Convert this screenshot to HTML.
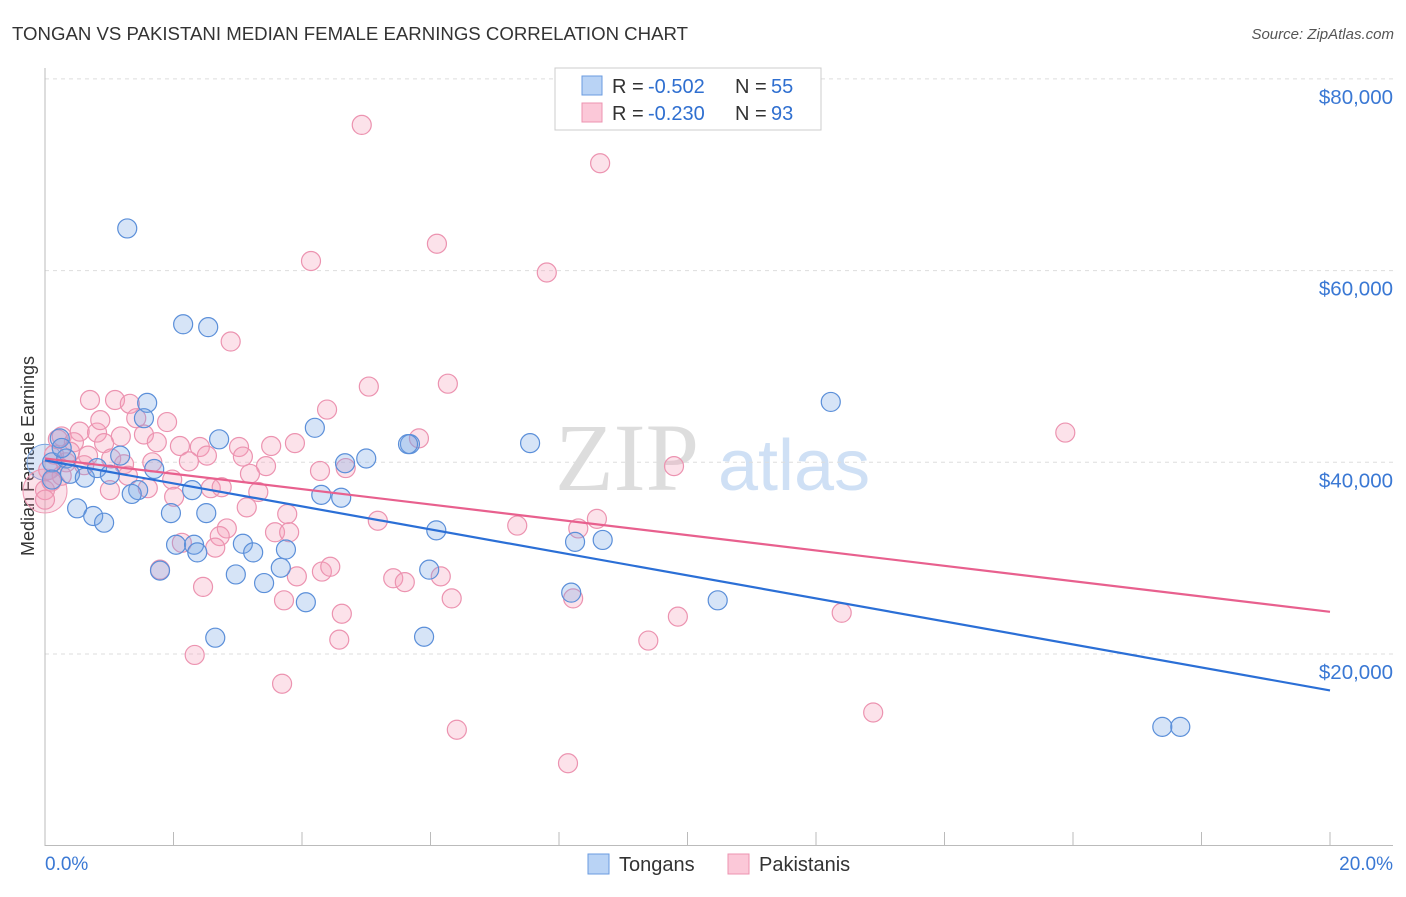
<!DOCTYPE html>
<html><head><meta charset="utf-8"><style>
body{margin:0;background:#fff;font-family:"Liberation Sans",sans-serif}
</style></head><body>
<svg width="1406" height="892" xmlns="http://www.w3.org/2000/svg" id="svg" font-family="Liberation Sans, sans-serif">
<text x="12" y="40" font-size="18" fill="#333" textLength="676" lengthAdjust="spacingAndGlyphs">TONGAN VS PAKISTANI MEDIAN FEMALE EARNINGS CORRELATION CHART</text>
<text x="1394" y="39" font-size="15" fill="#555" text-anchor="end" font-style="italic">Source: ZipAtlas.com</text>
<g><text x="555" y="490" font-size="96" fill="#ddd" font-family="Liberation Serif, serif">ZIP</text><text x="718" y="490" font-size="72" fill="#cfe0f5">atlas</text></g>
<text transform="translate(34,456) rotate(-90)" font-size="18" fill="#333" text-anchor="middle">Median Female Earnings</text>
<g id="grid"></g><g id="pts"></g><g id="lines"></g>
<g>
<rect x="555" y="68" width="266" height="62" fill="#fff" stroke="#ccc"/>
<rect x="582" y="76" width="20" height="19" fill="#b9d3f5" stroke="#6a9be0"/>
<rect x="582" y="103" width="20" height="19" fill="#fbc8d8" stroke="#ec93b0"/>
<text x="612" y="93" font-size="20" fill="#333">R =</text><text x="648" y="93" font-size="20" fill="#2f6fd0">-0.502</text>
<text x="735" y="93" font-size="20" fill="#333">N =</text><text x="771" y="93" font-size="20" fill="#2f6fd0">55</text>
<text x="612" y="120" font-size="20" fill="#333">R =</text><text x="648" y="120" font-size="20" fill="#2f6fd0">-0.230</text>
<text x="735" y="120" font-size="20" fill="#333">N =</text><text x="771" y="120" font-size="20" fill="#2f6fd0">93</text>
</g>
<g>
<rect x="588" y="854" width="21" height="20" fill="#b9d3f5" stroke="#6a9be0"/>
<text x="619" y="871" font-size="20" fill="#333">Tongans</text>
<rect x="728" y="854" width="21" height="20" fill="#fbc8d8" stroke="#ec93b0"/>
<text x="759" y="871" font-size="20" fill="#333">Pakistanis</text>
</g>
</svg>
<script>
const yTicks=[20000,40000,60000,80000];
const yTickLabels=["$20,000","$40,000","$60,000","$80,000"];
const xTickLabels=["0.0%","20.0%"];
const tonganX=[1.28,2.15,2.54,1.59,1.54,2.71,4.20,5.00,5.68,7.55,12.23,0.11,0.23,0.33,0.39,0.62,0.81,1.01,1.17,1.70,1.45,1.35,2.29,0.50,0.75,0.92,1.96,2.51,2.04,2.32,2.37,3.08,3.24,3.75,4.30,4.61,4.67,5.65,6.09,1.79,2.97,3.41,3.67,4.06,2.65,5.90,5.98,8.19,8.25,8.68,10.47,17.39,17.67,0.11,0.26];
const tonganY=[64.4,54.4,54.1,46.2,44.6,42.4,43.6,40.4,41.9,42.0,46.3,40.0,42.5,40.4,38.8,38.4,39.4,38.7,40.7,39.3,37.1,36.7,37.1,35.2,34.4,33.7,34.7,34.7,31.4,31.4,30.6,31.5,30.6,30.9,36.6,36.3,39.9,41.9,32.9,28.7,28.3,27.4,29.0,25.4,21.7,21.8,28.8,26.4,31.7,31.9,25.6,12.4,12.4,38.2,41.5];
const pakX=[4.93,8.64,4.14,6.10,7.81,2.89,5.04,6.27,4.39,15.88,9.79,1.09,1.32,1.90,1.42,1.18,1.54,1.74,2.10,2.41,3.02,3.52,3.89,5.82,0.26,0.54,0.81,0.45,0.92,0.67,0.33,1.03,1.23,2.24,2.52,3.08,3.44,4.28,4.68,3.19,1.98,1.60,1.01,2.58,2.75,3.32,1.67,2.01,3.14,3.77,2.83,2.72,3.58,3.80,5.18,7.35,8.30,8.59,1.79,2.65,2.13,3.92,4.31,4.44,5.42,5.60,6.16,6.33,8.22,2.46,3.72,4.62,4.58,2.33,3.69,6.41,8.14,9.39,9.85,12.40,12.89,0.0,0.05,0.14,0.20,0.0,0.39,0.61,1.29,0.86,0.26,0.70,0.1];
const pakY=[75.2,71.2,61.0,62.8,59.8,52.6,47.9,48.2,45.5,43.1,39.6,46.5,46.1,44.2,44.6,42.7,42.9,42.1,41.7,41.6,41.6,41.7,42.0,42.5,42.7,43.2,43.1,42.1,42.0,40.7,40.0,40.4,39.8,40.1,40.7,40.6,39.6,39.1,39.4,38.8,38.2,37.3,37.1,37.3,37.4,36.9,40.0,36.4,35.3,34.6,33.1,32.3,32.7,32.7,33.9,33.4,33.1,34.1,28.8,31.1,31.6,28.1,28.6,29.1,27.9,27.5,28.1,25.8,25.8,27.0,25.6,24.2,21.5,19.9,16.9,12.1,8.6,21.4,23.9,24.3,13.9,37.1,39.2,40.8,42.4,36.1,41.1,39.7,38.6,44.4,38.6,46.5,38.0];
const tonganTrend=[40.2,16.2];
const pakTrend=[40.4,24.4];
const X0=45,X1=1330,Y0=845.7;
const sx=v=>X0+(v/20)*(X1-X0);
const sy=v=>Y0-(v/20000)*191.7;
const NS="http://www.w3.org/2000/svg";
function mk(t,a,p){const e=document.createElementNS(NS,t);for(const k in a)e.setAttribute(k,a[k]);p.appendChild(e);return e;}
const svg=document.getElementById('svg'),grid=document.getElementById('grid'),pts=document.getElementById('pts'),lines=document.getElementById('lines');
yTicks.forEach((t,i)=>{
 const l=mk('line',{x1:X0,x2:1393,y1:sy(t),y2:sy(t),stroke:'#ddd','stroke-dasharray':'4,4'},grid);
 
 
 const tx=mk('text',{x:1393,y:sy(t)+25,'font-size':20.5,fill:'#3a78d4','text-anchor':'end'},grid);
 tx.textContent=yTickLabels[i];
 
 
});
const ax=mk('line',{x1:X0,x2:X0,y1:68,y2:846,stroke:'#bbb'},grid);


const bx=mk('line',{x1:X0,x2:1393,y1:845.5,y2:845.5,stroke:'#bbb'},grid);


for(let i=0;i<=10;i++){const t=mk('line',{x1:sx(i*2),x2:sx(i*2),y1:832,y2:845,stroke:'#bbb'},grid);
 
 }
xTickLabels.forEach((s,i)=>{const t=mk('text',{x:i?1393:45,y:870,'font-size':19,fill:'#3a78d4','text-anchor':i?'end':'start'},grid);t.textContent=s;
 
 });
mk('circle',{cx:sx(0),cy:sy(40000),r:18,fill:'rgba(110,155,225,0.25)',stroke:'#7aa4e0'},pts);
mk('circle',{cx:sx(0.0),cy:sy(37000),r:22,fill:'rgba(240,140,170,0.25)',stroke:'#ef9ab5'},pts);
function draw(X,Y,fill,stroke,name){X.forEach((x,i)=>{const c=mk('circle',{cx:sx(x),cy:sy(Y[i]*1000),r:9.5,fill:fill,stroke:stroke,'stroke-width':1.2},pts);
 
 });}
draw(pakX,pakY,'rgba(245,160,185,0.3)','#ec93b0','pakistani-point');
draw(tonganX,tonganY,'rgba(120,165,230,0.3)','#5b8fd9','tongan-point');
const t1=mk('line',{x1:sx(0),x2:sx(20),y1:sy(tonganTrend[0]*1000),y2:sy(tonganTrend[1]*1000),stroke:'#2b6fd6','stroke-width':2.2},lines);


const t2=mk('line',{x1:sx(0),x2:sx(20),y1:sy(pakTrend[0]*1000),y2:sy(pakTrend[1]*1000),stroke:'#e8608e','stroke-width':2.2},lines);


</script>
</body></html>
